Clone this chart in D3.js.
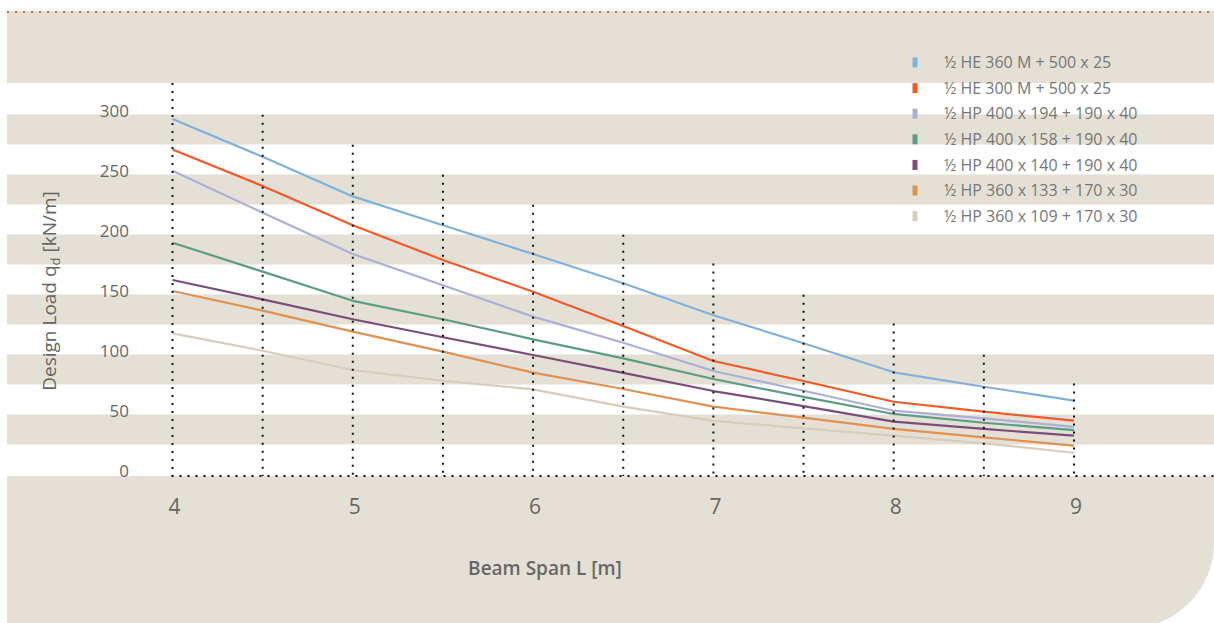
<!DOCTYPE html>
<html>
<head>
<meta charset="utf-8">
<script src="https://cdn.jsdelivr.net/npm/d3@7"></script>
<style>
  html, body { margin: 0; padding: 0; background: #ffffff; }
  svg { display: block; }
  text { font-family: "Open Sans", "DejaVu Sans", sans-serif; }
</style>
</head>
<body>
<svg id="chart" width="1214" height="623"></svg>
<script>
// Beam span (m) at which the design load was evaluated
const spans = [4, 4.5, 5, 5.5, 6, 6.5, 7, 7.5, 8, 8.5, 9];

// Design load q_d (kN/m) per section
const he360m   = [297.5, 266, 233, 209, 185, 160.6, 134, 110.6, 86.4, 74.4, 62.8];
const he300m   = [272, 241.7, 209, 180, 153.6, 125, 95.8, 79.2, 61.9, 53.6, 46.1];
const hp400x194 = [254.4, 219.4, 185, 159, 132.8, 111, 87.5, 71, 54.4, 48, 41];
const hp400x158 = [194.4, 170.3, 146, 130.6, 113.9, 98, 80.8, 66, 51.7, 44.4, 38.3];
const hp400x140 = [163.3, 147.2, 130.6, 115.6, 100.8, 86, 70.8, 58.3, 45.3, 39.2, 33.6];
const hp360x133 = [154.2, 137.8, 120.3, 103.6, 86.1, 72.5, 57.8, 48.6, 39.2, 32.2, 25.3];
const hp360x109 = [118.9, 104.4, 88.3, 79.4, 72.2, 57.8, 46, 39.7, 33.6, 27.2, 19.4];

const seriesNames = [
  "½ HE 360 M + 500 x 25",
  "½ HE 300 M + 500 x 25",
  "½ HP 400 x 194 + 190 x 40",
  "½ HP 400 x 158 + 190 x 40",
  "½ HP 400 x 140 + 190 x 40",
  "½ HP 360 x 133 + 170 x 30",
  "½ HP 360 x 109 + 170 x 30"
];
const seriesValues = [he360m, he300m, hp400x194, hp400x158, hp400x140, hp360x133, hp360x109];
const seriesColors = ["#80b1dc", "#f15a29", "#abb0d9", "#5b9e83", "#7a4d7b", "#de9352", "#d7cdbd"];

// Axis ticks
const xTicks = [4, 5, 6, 7, 8, 9];
const yTicks = [0, 50, 100, 150, 200, 250, 300];

// Shaded horizontal bands (upper value of each band) and vertical guide tops
const bandTops = [300, 250, 200, 150, 100, 50];
const guideTops = [327.5, 301, 276, 251, 226, 201, 177, 151, 127, 101, 77];

const W = 1214, H = 623;
const beige = "#e5e0d5";
const textGrey = "#666666";
const svg = d3.select("#chart");

const x = d3.scaleLinear().domain([4, 9]).range([172.5, 1074]);
const y = d3.scaleLinear().domain([0, 300]).range([476, 116]);

// background bands
const bg = svg.append("g");
bg.append("rect").attr("x", 7).attr("y", 11).attr("width", W - 7)
  .attr("height", y(327.5) - 11).attr("fill", beige);
bg.selectAll("rect.band").data(bandTops).join("rect")
  .attr("class", "band")
  .attr("x", 7).attr("width", W - 7)
  .attr("y", d => y(d) - 1.5)
  .attr("height", d => y(d - 25) - y(d))
  .attr("fill", beige);

// lower panel with rounded bottom-right corner
const r = 85, top0 = y(0), bottom = H + 5;
bg.append("path")
  .attr("d", `M7,${top0} H${W} V${bottom - r} A${r},${r} 0 0 1 ${W - r},${bottom} H7 Z`)
  .attr("fill", beige);

// orange dotted rule along the top
svg.append("line")
  .attr("x1", 7).attr("x2", W).attr("y1", 12).attr("y2", 12)
  .attr("stroke", "#f4632c").attr("stroke-width", 2)
  .attr("stroke-dasharray", "2 6");

// series lines
const line = d3.line().x((d, i) => x(spans[i])).y(d => y(d));
svg.append("g").selectAll("path").data(seriesValues).join("path")
  .attr("d", d => line(d))
  .attr("fill", "none")
  .attr("stroke", (d, i) => seriesColors[i])
  .attr("stroke-width", 2.2)
  .attr("stroke-linejoin", "round");

// dotted vertical guides at every half metre
svg.append("g").selectAll("line").data(spans).join("line")
  .attr("x1", d => x(d)).attr("x2", d => x(d))
  .attr("y1", (d, i) => y(guideTops[i])).attr("y2", y(0))
  .attr("stroke", "#111").attr("stroke-width", 2)
  .attr("stroke-dasharray", "2 6");

// dotted baseline
svg.append("line")
  .attr("x1", x(4) - 1).attr("x2", W).attr("y1", y(0)).attr("y2", y(0))
  .attr("stroke", "#111").attr("stroke-width", 2)
  .attr("stroke-dasharray", "2 6");

// y axis labels
const yAxis = svg.append("g").attr("transform", "translate(129,0)")
  .call(d3.axisLeft(y).tickValues(yTicks).tickSize(0).tickPadding(0));
yAxis.select(".domain").remove();
yAxis.selectAll("text")
  .attr("dy", "0.5")
  .attr("fill", textGrey)
  .style("font-size", "17px")
  .style("font-weight", 400)
  .style("font-family", '"Open Sans", sans-serif');

// x axis labels
const xAxis = svg.append("g").attr("transform", `translate(1.5,${y(0)})`)
  .call(d3.axisBottom(x).tickValues(xTicks).tickFormat(d3.format("d")).tickSize(0).tickPadding(0));
xAxis.select(".domain").remove();
xAxis.selectAll("text")
  .attr("y", 38).attr("dy", 0)
  .attr("fill", textGrey)
  .style("font-size", "21px")
  .style("font-weight", 400)
  .style("font-family", '"Open Sans", sans-serif');

// axis titles
svg.append("text")
  .attr("x", 545).attr("y", 575)
  .attr("text-anchor", "middle")
  .attr("fill", textGrey)
  .style("font-size", "19px").style("font-weight", 600)
  .text("Beam Span L [m]");

const yTitle = svg.append("text")
  .attr("transform", "translate(56,291) rotate(-90)")
  .attr("text-anchor", "middle")
  .attr("fill", textGrey)
  .style("font-size", "19px").style("font-weight", 500);
yTitle.append("tspan").text("Design Load q");
yTitle.append("tspan").attr("dy", 4).style("font-size", "13px").text("d");
yTitle.append("tspan").attr("dy", -4).text(" [kN/m]");

// legend
const legend = svg.append("g").attr("transform", "translate(912.5,62.5)");
const rows = legend.selectAll("g").data(seriesNames).join("g")
  .attr("transform", (d, i) => `translate(0,${i * 25.6})`);
rows.append("rect")
  .attr("x", 0).attr("y", -5).attr("width", 5).attr("height", 10)
  .attr("fill", (d, i) => seriesColors[i]);
rows.append("text")
  .attr("x", 31.5).attr("y", 5.7)
  .attr("fill", "#777777")
  .style("font-size", "16px").style("font-weight", 400)
  .text(d => d);
</script>
</body>
</html>
